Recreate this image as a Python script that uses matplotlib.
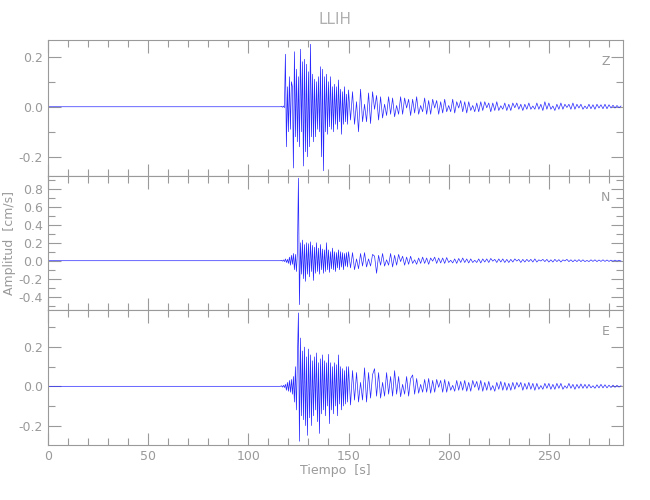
import numpy as np
import matplotlib
matplotlib.use('Agg')
import matplotlib.pyplot as plt
from matplotlib.ticker import MultipleLocator

plt.rcParams['font.family'] = ['Liberation Sans Narrow', 'DejaVu Sans']

station = 'LLIH'
components = ['Z', 'N', 'E']

# quiet part before the arrival
t_pre = [0.0, 116.0]
pre_vals = [0.0, 0.0]

# strong motion, 0.5 s sampling from 116 s
t_strong0, dt_strong = 116.0, 0.5
z_strong = [0.0, 0.002, -0.002, 0.003, -0.004, 0.21, -0.16, 0.08, -0.1, 0.12,
            -0.09, 0.1, 0.08, -0.245, 0.22, -0.12, 0.15, -0.14, 0.12, -0.16,
            0.23, -0.1, 0.18, -0.237, 0.19, -0.18, 0.17, -0.2, 0.14, -0.16,
            0.25, -0.12, 0.13, -0.14, 0.11, -0.12, 0.1, -0.09, 0.12, -0.1,
            0.16, -0.2, 0.15, -0.256, 0.12, -0.1, 0.13, -0.11, 0.1, -0.08,
            0.12, -0.09, 0.08, -0.1, 0.09, -0.07, 0.08, -0.09, 0.107, -0.06,
            0.07, -0.11, 0.06, -0.07, 0.08, -0.06, 0.05, -0.07]
n_strong = [0.0, 0.005, -0.005, 0.008, -0.01, 0.02, -0.02, 0.015, -0.03, 0.04,
            -0.05, 0.06, -0.04, 0.08, -0.1, 0.07, -0.12, 0.1, 0.92, -0.49,
            0.2, -0.15, 0.23, -0.2, 0.18, -0.23, 0.2, -0.15, 0.19, -0.18,
            0.21, -0.12, 0.17, -0.22, 0.15, -0.14, 0.2, -0.12, 0.14, -0.15,
            0.18, -0.1, 0.13, -0.14, 0.12, -0.12, 0.2, -0.1, 0.12, -0.13,
            0.1, -0.09, 0.14, -0.1, 0.1, -0.12, 0.09, -0.08, 0.12, -0.1,
            0.1, -0.07, 0.09, -0.1, 0.08, -0.06, 0.09, -0.07]
e_strong = [0.0, 0.003, -0.004, 0.005, -0.006, 0.01, -0.02, 0.02, -0.025, 0.03,
            -0.03, 0.035, -0.04, 0.05, -0.08, 0.1, -0.12, 0.15, 0.374, -0.28,
            0.246, -0.15, 0.18, -0.17, 0.2, -0.2, 0.15, -0.25, 0.19, -0.16,
            0.16, -0.2, 0.13, -0.15, 0.15, -0.12, 0.17, -0.18, 0.12, -0.24,
            0.14, -0.14, 0.16, -0.12, 0.13, -0.15, 0.12, -0.1, 0.163, -0.19,
            0.12, -0.12, 0.1, -0.14, 0.12, -0.1, 0.11, -0.15, 0.16, -0.09,
            0.1, -0.12, 0.09, -0.1, 0.08, -0.09, 0.1, -0.08]

# coda, 1 s sampling from 150 s
t_coda0, dt_coda = 150.0, 1.0
z_coda = [0.067, -0.053, 0.06, -0.07, 0.02, -0.1, 0.07, -0.06, 0.01, -0.06,
          0.055, -0.067, 0.06, -0.01, 0.045, -0.053, 0.04, -0.045, 0.01, -0.035,
          0.04, -0.03, 0.035, -0.04, 0.005, -0.03, 0.04, -0.03, 0.035, -0.005,
          0.03, -0.035, 0.03, -0.025, 0.04, -0.03, 0.005, -0.02, 0.035, -0.03,
          0.025, -0.03, 0.03, -0.005, 0.025, -0.03, 0.02, -0.025, 0.03, -0.02,
          0.005, -0.02, 0.03, -0.025, 0.02, -0.005, 0.025, -0.02, 0.02, -0.025,
          0.02, -0.015, 0.005, -0.02, 0.015, -0.02, 0.02, -0.015, 0.02, -0.004,
          0.015, -0.02, 0.015, -0.015, 0.02, -0.015, 0.004, -0.01, 0.015, -0.015,
          0.01, -0.015, 0.015, -0.004, 0.015, -0.01, 0.01, -0.015, 0.01, -0.01,
          0.015, -0.01, 0.003, -0.01, 0.015, -0.01, 0.01, -0.015, 0.02, -0.01,
          0.015, -0.01, 0.003, -0.015, 0.01, -0.01, 0.015, -0.01, 0.01, -0.003,
          0.01, -0.01, 0.015, -0.01, 0.01, -0.005, 0.01, -0.01, 0.003, -0.008,
          0.01, -0.008, 0.008, -0.01, 0.01, -0.005, 0.008, -0.008, 0.01, -0.008,
          0.008, -0.005, 0.006, -0.005, 0.005, -0.004, 0.003]
n_coda = [0.1, -0.08, 0.09, -0.1, 0.02, -0.09, 0.08, -0.06, 0.09, -0.07,
          0.02, -0.06, 0.07, 0.05, -0.14, 0.06, -0.05, 0.08, -0.06, 0.01,
          -0.05, 0.08, -0.07, 0.06, -0.05, 0.07, -0.01, 0.05, -0.05, 0.04,
          -0.04, 0.05, -0.03, 0.01, -0.04, 0.03, -0.03, 0.04, -0.03, 0.03,
          -0.04, 0.03, -0.005, 0.04, -0.03, 0.03, -0.025, 0.03, -0.03, 0.035,
          -0.02, 0.005, -0.025, 0.02, -0.03, 0.025, -0.02, 0.03, -0.02, 0.02,
          -0.025, 0.02, -0.02, 0.005, -0.02, 0.02, -0.025, 0.02, -0.015, 0.02,
          -0.02, 0.025, -0.005, 0.015, -0.02, 0.02, -0.015, 0.02, -0.02, 0.015,
          -0.02, 0.015, -0.015, 0.02, -0.004, 0.015, -0.02, 0.015, -0.015, 0.015,
          -0.01, 0.015, -0.015, 0.02, -0.015, 0.01, -0.004, 0.015, -0.01, 0.015,
          -0.015, 0.01, -0.015, 0.015, -0.01, 0.012, -0.015, 0.01, -0.003, 0.015,
          -0.01, 0.01, -0.012, 0.01, -0.01, 0.012, -0.01, 0.01, -0.01, 0.003,
          -0.01, 0.01, -0.008, 0.01, -0.01, 0.008, -0.008, 0.01, -0.008, 0.008,
          -0.008, 0.006, -0.006, 0.006, -0.005, 0.005, -0.004]
e_coda = [0.1, -0.095, 0.08, -0.07, 0.07, -0.08, 0.02, -0.07, 0.094, -0.08,
          0.07, -0.06, 0.06, 0.09, -0.05, 0.07, -0.06, 0.02, -0.05, 0.07,
          -0.04, 0.05, -0.05, 0.08, -0.04, 0.05, -0.053, 0.01, -0.04, 0.05,
          -0.05, 0.04, 0.058, -0.04, 0.04, -0.035, 0.01, -0.03, 0.035, -0.03,
          0.04, -0.035, 0.03, -0.03, 0.035, -0.005, 0.03, -0.03, 0.035, -0.03,
          0.025, -0.02, 0.005, -0.025, 0.03, -0.02, 0.025, -0.02, 0.03, -0.025,
          0.02, -0.025, 0.03, -0.005, 0.025, -0.02, 0.03, -0.025, 0.02, -0.02,
          0.025, -0.02, 0.004, -0.025, 0.02, -0.015, 0.025, -0.02, 0.02, -0.02,
          0.015, -0.02, 0.02, -0.015, 0.02, -0.004, 0.02, -0.02, 0.015, -0.015,
          0.02, -0.015, 0.015, -0.02, 0.015, -0.015, 0.004, -0.015, 0.015, -0.01,
          0.015, -0.015, 0.01, -0.015, 0.015, -0.01, 0.015, -0.015, 0.003, -0.01,
          0.015, -0.01, 0.01, -0.015, 0.01, -0.01, 0.012, -0.01, 0.01, -0.01,
          0.01, -0.008, 0.003, -0.01, 0.008, -0.008, 0.01, -0.008, 0.008, -0.008,
          0.006, -0.006, 0.006, -0.005, 0.005, -0.004, 0.003]

strong = [z_strong, n_strong, e_strong]
coda = [z_coda, n_coda, e_coda]

y_limits = [(-0.277, 0.267), (-0.55, 0.945), (-0.299, 0.389)]
x_max = 287

grey = '#9a9a9a'
trace_color = '#2828ff'

fig = plt.figure(figsize=(6.5, 5), dpi=100)
# panel edges in pixels (top, bottom), panels touch each other
edges = [(40, 176), (176, 310), (310, 445)]
left, right = 48 / 650, 623 / 650

axes = []
for i, comp in enumerate(components):
    top, bot = edges[i]
    ax = fig.add_axes([left, 1 - bot / 500, right - left, (bot - top) / 500])
    axes.append(ax)

    t_s = t_strong0 + dt_strong * np.arange(len(strong[i]))
    t_c = t_coda0 + dt_coda * np.arange(len(coda[i]))
    t = np.concatenate([t_pre, t_s, t_c])
    v = np.concatenate([pre_vals, strong[i], coda[i]])
    ax.plot(t, v, color=trace_color, lw=0.5)

    ax.set_xlim(0, x_max)
    ax.set_ylim(*y_limits[i])
    ax.xaxis.set_major_locator(MultipleLocator(50))
    ax.xaxis.set_minor_locator(MultipleLocator(10))
    ax.yaxis.set_major_locator(MultipleLocator(0.2))
    ax.yaxis.set_minor_locator(MultipleLocator(0.1))
    ax.yaxis.set_major_formatter(plt.FuncFormatter(lambda val, pos: '%.1f' % val))
    ax.tick_params(which='both', direction='in', top=True, right=True,
                   colors=grey, labelcolor=grey, labelsize=9)
    ax.tick_params(which='major', length=9, width=0.8)
    ax.tick_params(which='minor', length=5, width=0.8)
    for s in ax.spines.values():
        s.set_color(grey)
        s.set_linewidth(0.8)
    if i < 2:
        ax.tick_params(labelbottom=False)
    ax.text(0.97, 0.84, comp, transform=ax.transAxes, color=grey,
            fontsize=9, ha='center', va='center')

axes[1].set_ylabel('Amplitud  [cm/s]', color=grey, fontsize=9, labelpad=2)
axes[2].set_xlabel('Tiempo  [s]', color=grey, fontsize=9, labelpad=1)
fig.text((left + right) / 2, 1 - 20 / 500, station, color='#b0b0b0',
         fontsize=11, ha='center', va='center')

fig.savefig('out.png', dpi=100)
